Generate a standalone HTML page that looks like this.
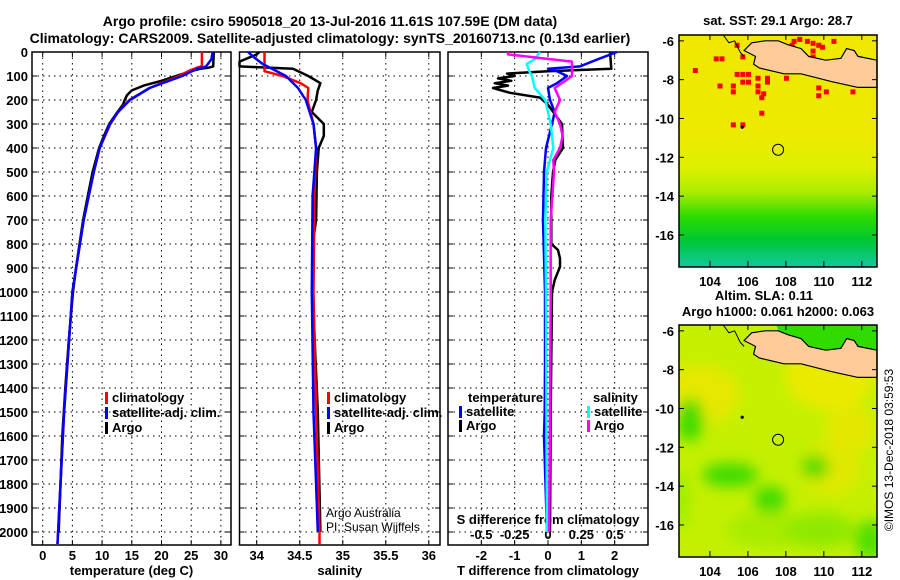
<!DOCTYPE html>
<html><head><meta charset="utf-8">
<style>
html,body{margin:0;padding:0;background:#fff;}
svg{display:block;font-family:"Liberation Sans",Arial,sans-serif;}
.b{font-weight:bold;}
</style></head>
<body>
<svg id="fig" width="900" height="580" viewBox="0 0 900 580" xmlns="http://www.w3.org/2000/svg">
<defs>
<linearGradient id="sstg" x1="0" y1="0" x2="0" y2="1">
<stop offset="0" stop-color="#f0e800"/>
<stop offset="0.45" stop-color="#ecea00"/>
<stop offset="0.58" stop-color="#dcf000"/>
<stop offset="0.68" stop-color="#a8ec00"/>
<stop offset="0.78" stop-color="#30dc00"/>
<stop offset="0.88" stop-color="#00c830"/>
<stop offset="1" stop-color="#10c8a0"/>
</linearGradient>
<filter id="blur"><feGaussianBlur stdDeviation="7"/></filter>
<clipPath id="m1c"><rect x="679" y="35" width="198" height="232"/></clipPath>
<clipPath id="m2c"><rect x="679" y="325" width="198" height="232"/></clipPath>
</defs>
<text x="330" y="26" text-anchor="middle" class="b" font-size="14">Argo profile: csiro 5905018_20 13-Jul-2016 11.61S 107.59E (DM data)</text>
<text x="330" y="43" text-anchor="middle" class="b" font-size="14">Climatology: CARS2009. Satellite-adjusted climatology: synTS_20160713.nc (0.13d earlier)</text>
<g id="panels"></g>
<g id="maps"></g>
<text transform="translate(893,450) rotate(-90)" text-anchor="middle" font-size="12">©IMOS 13-Dec-2018 03:59:53</text>
</svg>
<script>
// ---- data ----
const depthTicks = [0,100,200,300,400,500,600,700,800,900,1000,1100,1200,1300,1400,1500,1600,1700,1800,1900,2000];
const tempTicks = [0,5,10,15,20,25,30];
const salTicks = [34,34.5,35,35.5,36];
const salTickLabels = ["34","34.5","35","35.5","36"];
const tdiffTicks = [-2,-1,0,1,2];
const sdiffTicks = [-0.5,-0.25,0,0.25,0.5];
const sdiffTickLabels = ["-0.5","-0.25","0","0.25","0.5"];

const tArgoDepth = [0,60,65,70,80,100,120,140,160,180,200,220,250,300,350,400,500,600,700,800,900,1000,1200,1400,1600,1800,2000];
const tArgoVal = [28.8,28.7,28,26.5,25,22.5,20,17,15,14.2,13.8,13.5,12.6,11.2,10.3,9.5,8.4,7.6,6.8,6.2,5.6,5.1,4.4,3.8,3.3,3.0,2.7];
const tClimDepth = [0,60,65,80,100,150,200,250,300,400,500,700,1000,1500,2000,2050];
const tClimVal = [26.8,26.8,26,24.5,23,18,14.6,12.7,11.4,9.6,8.6,6.9,5.0,3.6,2.6,2.5];
const tSatDepth = [0,30,60,70,100,150,200,250,300,400,500,700,1000,1500,2000,2050];
const tSatVal = [28.6,28.4,27.5,26,23.5,18,14.7,12.7,11.3,9.6,8.6,6.9,5.0,3.6,2.6,2.5];

const sArgoDepth = [0,10,40,60,70,100,130,160,200,250,300,350,400,500,700,800,1000,1500,2000];
const sArgoVal = [34.03,34.0,33.8,33.8,34.42,34.6,34.74,34.71,34.69,34.64,34.78,34.78,34.72,34.70,34.69,34.65,34.65,34.71,34.74];
const sClimDepth = [0,80,100,130,150,200,300,400,600,1000,1500,2000,2050];
const sClimVal = [34.09,34.09,34.3,34.51,34.6,34.59,34.66,34.69,34.67,34.66,34.69,34.73,34.73];
const sSatDepth = [0,20,50,100,150,200,300,400,600,1000,1500,2000];
const sSatVal = [33.9,33.96,34.07,34.34,34.48,34.57,34.66,34.69,34.65,34.64,34.66,34.71];

const dTArgoDepth = [0,70,80,90,100,110,120,130,140,150,170,190,220,300,400,450,500,600,800,825,860,895,950,1000,1500,2000];
const dTArgoVal = [1.86,1.9,0,-1.23,-1.0,-1.5,-1.1,-1.6,-1.2,-1.65,-1.14,-0.24,0,0.42,0.45,0.22,0.15,0.1,0.1,0.3,0.36,0.36,0.2,0.12,0.08,0.06];
const dTSatDepth = [0,30,60,70,80,100,130,150,200,250,300,400,500,700,1000,1300,1500,1600,2000];
const dTSatVal = [2.07,1.5,0.96,0,0.27,0.57,0.27,0,0.06,0.2,0.12,-0.06,-0.12,-0.15,-0.09,-0.09,-0.1,-0.12,-0.03];
const dSArgoDepth = [0,10,40,70,100,120,150,200,250,300,350,400,450,500,700,1000,1500,2000];
const dSArgoVal = [-0.3,-0.3,0.18,0.18,0.18,0.13,0.05,0.09,0.05,0.09,0.11,0.09,0.04,0.045,0.02,0.02,0.015,0.008];
const dSSatDepth = [0,30,50,80,100,150,200,250,300,400,500,700,1000,2000];
const dSSatVal = [-0.06,-0.1,-0.16,-0.14,-0.12,-0.1,-0.02,0,0.02,0.04,-0.01,-0.02,-0.015,-0.008];

// ---- helpers ----
const NS="http://www.w3.org/2000/svg";
const root=document.getElementById('panels');
function mk(tag,attrs,parent){const e=document.createElementNS(NS,tag);for(const k in attrs)e.setAttribute(k,attrs[k]);(parent||root).appendChild(e);return e;}
const Y0=52, YB=545;
function yD(d){return Y0+d*0.24;}

function panel(name,x0,x1,dom,ticks,labels,xlabel,showDepthLabels){
  const sx=v=>x0+(v-dom[0])/(dom[1]-dom[0])*(x1-x0);
  const g=mk('g',{});
  
  
  depthTicks.forEach(d=>{const y=yD(d);
    const l=mk('line',{x1:x0,x2:x1,y1:y,y2:y,stroke:'#000','stroke-width':1,'stroke-dasharray':'1.5,4'},g);
    
    
    mk('line',{x1:x0,x2:x0+5,y1:y,y2:y,stroke:'#000'},g);
    mk('line',{x1:x1-5,x2:x1,y1:y,y2:y,stroke:'#000'},g);
    if(showDepthLabels){const t=mk('text',{x:x0-4,y:y+5,'text-anchor':'end','font-size':13,'font-weight':'bold'},g);t.textContent=d;
      
      }
  });
  ticks.forEach((v,i)=>{const x=sx(v);
    mk('line',{x1:x,x2:x,y1:Y0,y2:YB,stroke:'#000','stroke-width':1,'stroke-dasharray':'1.5,4'},g);
    mk('line',{x1:x,x2:x,y1:YB-5,y2:YB,stroke:'#000'},g);
    mk('line',{x1:x,x2:x,y1:Y0,y2:Y0+5,stroke:'#000'},g);
    if(labels){const t=mk('text',{x:x,y:YB+15,'text-anchor':'middle','font-size':13,'font-weight':'bold'},g);t.textContent=labels[i];
      
      }
  });
  const f=mk('rect',{x:x0,y:Y0,width:x1-x0,height:YB-Y0,fill:'none',stroke:'#000','stroke-width':1.5},g);
  
  
  if(xlabel){const t=mk('text',{x:(x0+x1)/2,y:575,'text-anchor':'middle','font-size':13,'font-weight':'bold'},g);t.textContent=xlabel;
    
    }
  return {g,sx};
}
function line(p,depths,vals,color,name,w){
  const pts=depths.map((d,i)=>p.sx(vals[i]).toFixed(1)+','+yD(d).toFixed(1)).join(' ');
  const l=mk('polyline',{points:pts,fill:'none',stroke:color,'stroke-width':w||2.5,'stroke-linejoin':'round'},p.g);
  
  
}
function leg(g,x,y,color,text,name){
  mk('rect',{x:x,y:y-10,width:3,height:12,fill:color},g);
  const t=mk('text',{x:x+7,y:y,'font-size':13,'font-weight':'bold'},g);t.textContent=text;
  
  
}

// Panel 1 temperature
const p1=panel('temperature-panel',32,231,[-1.8,31.7],tempTicks,tempTicks.map(String),'temperature (deg C)',true);
line(p1,tArgoDepth,tArgoVal,'#000','temp-argo-line');
line(p1,tClimDepth,tClimVal,'#f00','temp-climatology-line');
line(p1,tSatDepth,tSatVal,'#00f','temp-satellite-line');
leg(p1.g,105,402,'#f00','climatology','legend-climatology');
leg(p1.g,105,417,'#00f','satellite-adj. clim.','legend-satellite');
leg(p1.g,105,432,'#000','Argo','legend-argo');

// Panel 2 salinity
const p2=panel('salinity-panel',239.5,440,[33.8,36.13],salTicks,salTickLabels,'salinity',false);
line(p2,sArgoDepth,sArgoVal,'#000','sal-argo-line');
line(p2,sClimDepth,sClimVal,'#f00','sal-climatology-line');
line(p2,sSatDepth,sSatVal,'#00f','sal-satellite-line');
leg(p2.g,327,402,'#f00','climatology','legend-climatology');
leg(p2.g,327,417,'#00f','satellite-adj. clim.','legend-satellite');
leg(p2.g,327,432,'#000','Argo','legend-argo');
{const t=mk('text',{x:326,y:517,'font-size':12},p2.g);t.textContent='Argo Australia';


const t2=mk('text',{x:326,y:531,'font-size':12},p2.g);t2.textContent='PI: Susan Wijffels';

}

// Panel 3 differences
const p3=panel('difference-panel',448,648,[-3,3],tdiffTicks,tdiffTicks.map(String),'T difference from climatology',false);
const p3s={g:p3.g,sx:v=>448+(v+0.75)/1.5*200};
sdiffTicks.forEach((v,i)=>{const t=mk('text',{x:p3s.sx(v),y:539,'text-anchor':'middle','font-size':13,'font-weight':'bold'},p3.g);t.textContent=sdiffTickLabels[i];
  
  });
{const t=mk('text',{x:548,y:524,'text-anchor':'middle','font-size':13,'font-weight':'bold'},p3.g);t.textContent='S difference from climatology';

}
line(p3,dTArgoDepth,dTArgoVal,'#000','tdiff-argo-line');
line(p3,dTSatDepth,dTSatVal,'#00f','tdiff-satellite-line');
line(p3s,dSSatDepth,dSSatVal,'#0ff','sdiff-satellite-line');
line(p3s,dSArgoDepth,dSArgoVal,'#f0f','sdiff-argo-line');
{const t=mk('text',{x:468,y:402,'font-size':13,'font-weight':'bold'},p3.g);t.textContent='temperature';


const t2=mk('text',{x:593,y:402,'font-size':13,'font-weight':'bold'},p3.g);t2.textContent='salinity';

}
leg(p3.g,459,416,'#00f','satellite','legend-t-satellite');
leg(p3.g,459,430,'#000','Argo','legend-t-argo');
leg(p3.g,587,416,'#0ff','satellite','legend-s-satellite');
leg(p3.g,587,430,'#f0f','Argo','legend-s-argo');

// ---- maps ----
const mg=document.getElementById('maps');
const lonTicks=[104,106,108,110,112];
const latTicks=[-6,-8,-10,-12,-14,-16];
const argoLon=107.59, argoLat=-11.61;
const mx=lon=>679+(lon-102.37)/(112.8-102.37)*198;
function mapFrame(top,name){
  const my=lat=>top+(-5.7-lat)/(-5.7+17.65)*232;
  const g=mk('g',{},mg);
  
  
  return {g,my};
}
const sstRedCells=[[104.2,-6.8],[104.5,-6.8],[103.1,-7.4],[105.3,-7.6],[105.6,-7.6],[105.9,-7.6],[105.6,-8.0],[105.9,-8.0],[105.1,-8.2],[105.1,-8.5],[106.4,-7.8],[106.4,-8.2],[106.4,-8.5],[106.7,-8.6],[106.9,-7.8],[106.9,-8.0],[106.6,-8.8],[104.4,-8.2],[106.6,-9.6],[105.1,-10.2],[105.6,-10.2],[108.3,-5.9],[108.6,-5.8],[109.0,-5.9],[109.3,-6.0],[109.6,-6.1],[109.3,-6.4],[109.3,-6.7],[108.2,-6.1],[109.8,-6.2],[110.4,-5.9],[109.6,-8.3],[110.0,-8.5],[111.4,-8.5],[109.6,-8.7],[107.9,-7.8],[105.3,-6.1],[105.6,-6.7]];
const landPts=[[106.2,-6.1],[106.9,-6.0],[107.6,-6.0],[108.1,-6.2],[108.8,-6.4],[109.2,-6.8],[110.1,-7.0],[110.9,-6.9],[111.2,-6.4],[111.6,-6.5],[111.8,-6.8],[112.8,-7.0],[112.8,-8.4],[111.8,-8.4],[110.4,-8.1],[108.8,-7.7],[107.9,-7.7],[106.6,-7.4],[106.3,-7.2],[106.4,-6.8],[105.8,-6.5]];
function drawLand(m){
  const pts=landPts.map(p=>mx(p[0]).toFixed(1)+','+m.my(p[1]).toFixed(1)).join(' ');
  const l=mk('polygon',{points:pts,fill:'#ffcc99',stroke:'#000','stroke-width':1.2},m.g);
  
  
  mk('polyline',{points:[[104.7,-5.7],[105.0,-6.1],[105.3,-6.0],[105.6,-6.6],[105.8,-6.8]].map(p=>mx(p[0])+','+m.my(p[1])).join(' '),fill:'none',stroke:'#000','stroke-width':1},m.g);
  mk('circle',{cx:mx(105.7),cy:m.my(-10.45),r:1.6,fill:'#000'},m.g);
}
function axes(m,top){
  lonTicks.forEach(v=>{const x=mx(v);
    mk('line',{x1:x,x2:x,y1:top+232,y2:top+226,stroke:'#000'},m.g);
    mk('line',{x1:x,x2:x,y1:top,y2:top+5,stroke:'#000'},m.g);
    const t=mk('text',{x:x,y:top+251,'text-anchor':'middle','font-size':13,'font-weight':'bold'},m.g);t.textContent=v;
    
    });
  latTicks.forEach(v=>{const y=m.my(v);
    mk('line',{x1:679,x2:684,y1:y,y2:y,stroke:'#000'},m.g);
    mk('line',{x1:872,x2:877,y1:y,y2:y,stroke:'#000'},m.g);
    const t=mk('text',{x:674,y:y+5,'text-anchor':'end','font-size':13,'font-weight':'bold'},m.g);t.textContent=v;
    
    });
  const c=mk('circle',{cx:mx(argoLon),cy:m.my(argoLat),r:5.5,fill:'none',stroke:'#000','stroke-width':1},m.g);
  
  
  const f=mk('rect',{x:679,y:top,width:198,height:232,fill:'none',stroke:'#000','stroke-width':1.5},m.g);
  
  
}
// Map 1 SST
const m1=mapFrame(35,'sst-map');
{const t=mk('text',{x:778,y:25,'text-anchor':'middle','font-size':13,'font-weight':'bold'},m1.g);t.textContent='sat. SST: 29.1 Argo: 28.7';

}
const bg1=mk('rect',{x:679,y:35,width:198,height:232,fill:'url(#sstg)'},m1.g);


sstRedCells.forEach(c=>{const r=mk('rect',{x:mx(c[0]),y:m1.my(c[1]),width:5,height:5,fill:'#f00'},m1.g);
  
  });
drawLand(m1);
axes(m1,35);
// Map 2 SLA
const m2=mapFrame(325,'sla-map');
{const t=mk('text',{x:764,y:300,'text-anchor':'middle','font-size':13,'font-weight':'bold'},m2.g);t.textContent='Altim. SLA: 0.11';


const t2=mk('text',{x:778,y:316,'text-anchor':'middle','font-size':13,'font-weight':'bold'},m2.g);t2.textContent='Argo h1000: 0.061 h2000: 0.063';

}
const g2=mk('g',{'clip-path':'url(#m2c)'},m2.g);
mk('rect',{x:679,y:325,width:198,height:232,fill:'#c4f000'},g2);
const blobs=mk('g',{filter:'url(#blur)'},g2);
[[700,395,40,30,'#e6e800'],[830,375,45,35,'#eaea00'],[850,430,25,25,'#e4e800'],[830,470,30,25,'#e0e800'],[690,420,14,22,'#40dc00'],[730,475,28,12,'#40dc00'],[770,500,16,14,'#40dc00'],[815,467,14,12,'#50dc00'],[770,530,45,18,'#a8ec00'],[820,530,35,18,'#90e800'],[870,540,15,20,'#50e000'],[680,500,10,30,'#a0ec00']].forEach(b=>mk('ellipse',{cx:b[0],cy:b[1],rx:b[2],ry:b[3],fill:b[4]},blobs));
mk('polygon',{points:[[107.5,-5.7],[112.8,-5.7],[112.8,-7.0],[111.8,-6.8],[111.6,-6.5],[111.2,-6.4],[110.9,-6.9],[110.1,-7.0],[109.2,-6.8],[108.8,-6.4],[108.1,-6.2],[107.6,-6.0]].map(p=>mx(p[0])+','+m2.my(p[1])).join(' '),fill:'#30dc00'},g2);
drawLand(m2);
axes(m2,325);
</script>
</body></html>
